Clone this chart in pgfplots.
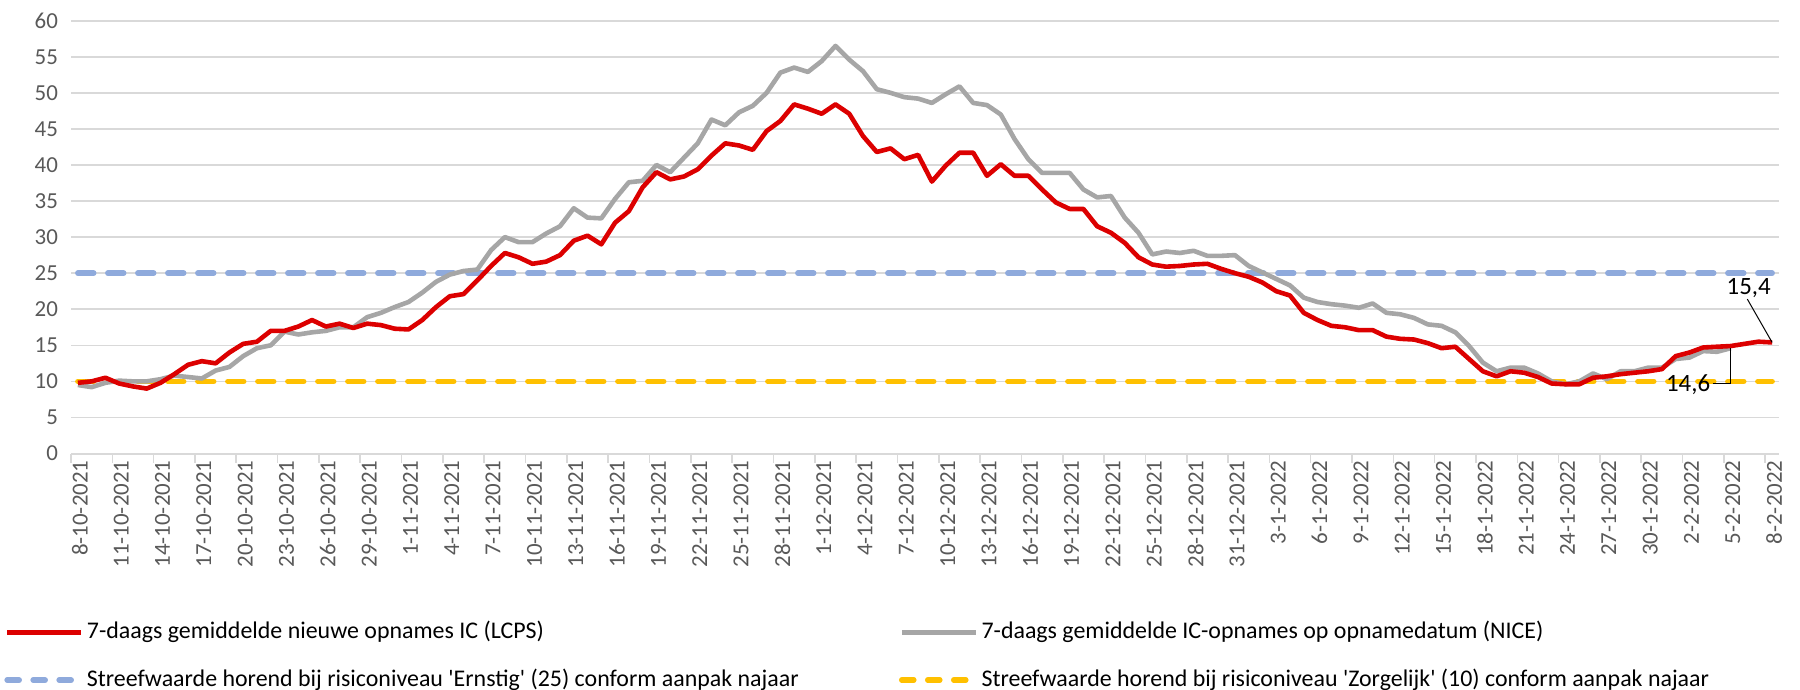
\documentclass[border=0pt]{standalone}
\usepackage{fontspec}
\setmainfont{Carlito}[Ligatures=TeXOff]
\usepackage{pgfplots}
\usepackage{pgfplotstable}
\pgfplotsset{compat=1.18}

\definecolor{lcps}{RGB}{220,0,0}
\definecolor{nice}{RGB}{166,166,166}
\definecolor{ernstig}{RGB}{143,170,220}
\definecolor{zorg}{RGB}{255,192,0}
\definecolor{gridc}{RGB}{217,217,217}
\definecolor{tickc}{RGB}{89,89,89}

% day index (0 = 8-10-2021), LCPS and NICE 7-day averages
\pgfplotstableread{
d lcps nice
0 9.8 9.5
1 10.0 9.2
2 10.5 9.8
3 9.7 10.1
4 9.3 10.0
5 9.0 10.0
6 9.8 10.3
7 11.0 10.8
8 12.3 10.6
9 12.8 10.4
10 12.5 11.5
11 14.0 12.0
12 15.2 13.5
13 15.5 14.6
14 17.0 15.0
15 17.0 16.9
16 17.6 16.5
17 18.5 16.8
18 17.6 17.0
19 18.0 17.5
20 17.4 17.5
21 18.0 18.9
22 17.8 19.5
23 17.3 20.3
24 17.2 21.0
25 18.5 22.3
26 20.3 23.8
27 21.8 24.8
28 22.1 25.3
29 24.0 25.5
30 26.0 28.2
31 27.8 30.0
32 27.2 29.3
33 26.3 29.3
34 26.6 30.5
35 27.5 31.5
36 29.5 34.0
37 30.2 32.7
38 29.0 32.6
39 32.0 35.3
40 33.6 37.6
41 36.9 37.8
42 39.0 40.0
43 38.0 39.0
44 38.4 41.0
45 39.4 43.0
46 41.3 46.3
47 43.0 45.5
48 42.7 47.3
49 42.1 48.2
50 44.7 50.0
51 46.1 52.8
52 48.4 53.5
53 47.8 52.9
54 47.1 54.4
55 48.4 56.5
56 47.1 54.6
57 44.0 53.0
58 41.8 50.5
59 42.3 50.0
60 40.8 49.4
61 41.4 49.2
62 37.7 48.6
63 39.9 49.8
64 41.7 50.9
65 41.7 48.6
66 38.5 48.3
67 40.1 47.0
68 38.5 43.6
69 38.5 40.8
70 36.6 38.9
71 34.8 38.9
72 33.9 38.9
73 33.9 36.6
74 31.5 35.5
75 30.6 35.7
76 29.2 32.7
77 27.2 30.6
78 26.2 27.6
79 25.9 28.0
80 26.0 27.8
81 26.2 28.1
82 26.3 27.4
83 25.6 27.4
84 25.0 27.5
85 24.5 26.0
86 23.7 25.1
87 22.5 24.2
88 21.9 23.3
89 19.5 21.6
90 18.5 21.0
91 17.7 20.7
92 17.5 20.5
93 17.1 20.2
94 17.1 20.8
95 16.2 19.5
96 15.9 19.3
97 15.8 18.8
98 15.3 17.9
99 14.6 17.7
100 14.8 16.8
101 13.1 14.9
102 11.4 12.6
103 10.7 11.4
104 11.4 11.9
105 11.2 11.9
106 10.6 11.1
107 9.7 10.0
108 9.6 9.6
109 9.6 10.0
110 10.5 11.1
111 10.7 10.3
112 11.0 11.4
113 11.2 11.4
114 11.4 11.9
115 11.7 11.9
116 13.5 13.1
117 14.0 13.3
118 14.7 14.2
119 14.8 14.1
120 14.9 14.6
121 15.2 nan
122 15.5 nan
123 15.4 nan
}\icdata

\begin{document}
\begin{tikzpicture}
\begin{axis}[
    name=ax,
    scale only axis,
    width=854bp, height=216.4bp,
    xmin=-0.5, xmax=123.5,
    ymin=0, ymax=60,
    ytick={0,5,...,60},
    xtick={0,3,...,123},
    xticklabels={8-10-2021,11-10-2021,14-10-2021,17-10-2021,20-10-2021,23-10-2021,26-10-2021,29-10-2021,1-11-2021,4-11-2021,7-11-2021,10-11-2021,13-11-2021,16-11-2021,19-11-2021,22-11-2021,25-11-2021,28-11-2021,1-12-2021,4-12-2021,7-12-2021,10-12-2021,13-12-2021,16-12-2021,19-12-2021,22-12-2021,25-12-2021,28-12-2021,31-12-2021,3-1-2022,6-1-2022,9-1-2022,12-1-2022,15-1-2022,18-1-2022,21-1-2022,24-1-2022,27-1-2022,30-1-2022,2-2-2022,5-2-2022,8-2-2022},
    major tick length=0pt,
    tick align=outside,
    extra x ticks={-0.5,2.5,...,122.5},
    extra x tick labels={},
    extra x tick style={major tick length=4.5bp, tick style={gridc, line width=0.8bp}},
    ytick style={draw=none},
    axis x line*=bottom,
    axis y line*=left,
    y axis line style={draw=none},
    x axis line style={gridc, line width=1bp, -},
    ymajorgrids=true,
    grid style={gridc, line width=0.8bp},
    /pgf/number format/assume math mode=true,
    yticklabel style={font=\fontsize{11.5}{13}\selectfont, text=tickc, xshift=-3bp},
    xticklabel style={font=\fontsize{11.5}{13}\selectfont, text=tickc, rotate=90, anchor=east, yshift=-1bp},
    unbounded coords=jump,
    clip=false,
    legend columns=2,
    legend cell align=left,
    legend image code/.code={\draw[#1] (0bp,0bp) -- (37bp,0bp);},
    legend style={at={(0,0)}, anchor=north west, xshift=-36.5bp, yshift=-81.5bp,
        draw=none, fill=none, font=\fontsize{12}{14}\selectfont,
        nodes={inner sep=0pt, text height=9bp, text depth=3bp},
        row sep=11.6bp,
        /tikz/every odd column/.style={column sep=1.5bp}},
]
% legend entries
\addlegendimage{lcps, line width=2.4bp}
\addlegendentry{\makebox[406bp][l]{7-daags gemiddelde nieuwe opnames IC (LCPS)}}
\addlegendimage{nice, line width=2.4bp}
\addlegendentry{7-daags gemiddelde IC-opnames op opnamedatum (NICE)}
\addlegendimage{ernstig, line width=2.8bp, line cap=round, dash pattern=on 6bp off 7bp}
\addlegendentry{\makebox[406bp][l]{Streefwaarde horend bij risiconiveau 'Ernstig' (25) conform aanpak najaar}}
\addlegendimage{zorg, line width=2.8bp, line cap=round, dash pattern=on 6bp off 7bp}
\addlegendentry{Streefwaarde horend bij risiconiveau 'Zorgelijk' (10) conform aanpak najaar}

% target levels
\addplot[forget plot, ernstig, line width=2.8bp, line cap=round, dash pattern=on 7.9bp off 7.1bp]
    coordinates {(0,25) (123,25)};
\addplot[forget plot, zorg, line width=2.8bp, line cap=round, dash pattern=on 7.9bp off 7.1bp]
    coordinates {(0,10) (123,10)};

% series
\addplot[forget plot, nice, line width=2.3bp, line join=round] table[x=d, y=nice] {\icdata};
\addplot[forget plot, lcps, line width=2.3bp, line join=round] table[x=d, y=lcps] {\icdata};

% data labels
\node[font=\fontsize{12.5}{14}\selectfont, anchor=center] at (axis cs:121.3,22.9) {15,4};
\draw[black, line width=0.5bp] (axis cs:121.2,21.4) -- (axis cs:123,15.4);
\node[font=\fontsize{12.5}{14}\selectfont, anchor=center] at (axis cs:116.9,9.5) {14,6};
\draw[black, line width=0.5bp] (axis cs:118.7,9.7) -- (axis cs:120,9.7) -- (axis cs:120,14.6);
\end{axis}
\pgfresetboundingbox
\path[use as bounding box] ([shift={(-35.5bp,-118.25bp)}]ax.south west) rectangle ([shift={(10.5bp,10.35bp)}]ax.north east);
\end{tikzpicture}
\end{document}
